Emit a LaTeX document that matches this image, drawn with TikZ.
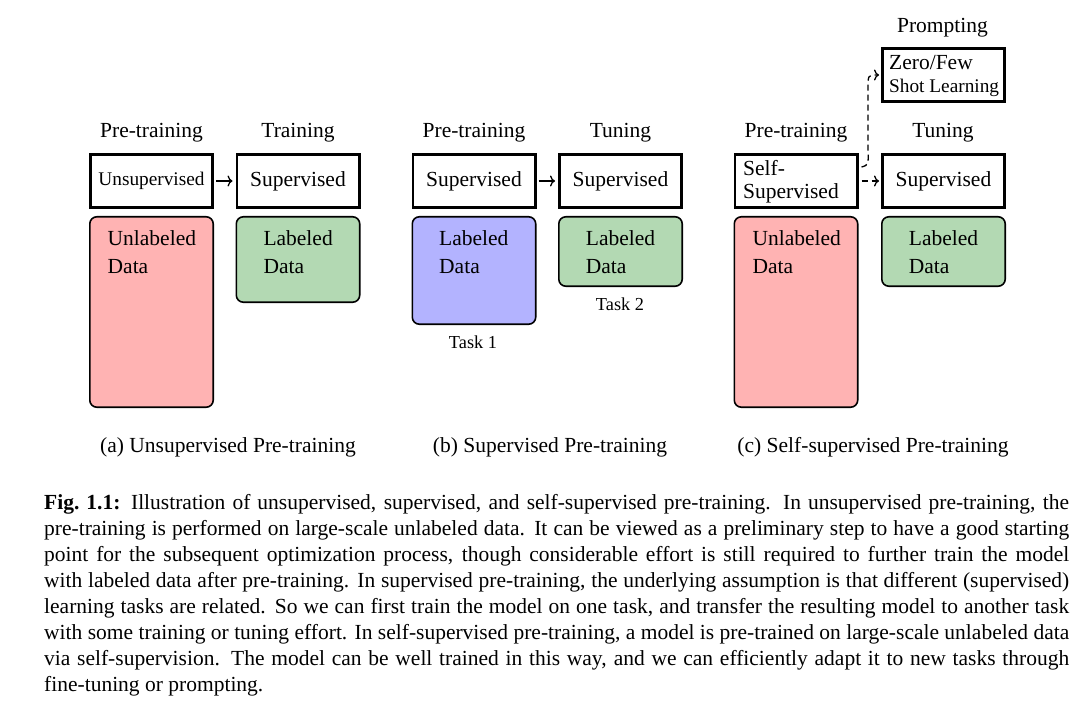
\documentclass[tikz,border=0pt]{standalone}
\usepackage{fontspec}
\setmainfont{Liberation Serif}
\usetikzlibrary{arrows.meta}
\definecolor{redfill}{RGB}{255,179,179}
\definecolor{greenfill}{RGB}{179,217,179}
\definecolor{bluefill}{RGB}{179,179,255}
\newcommand{\nsz}{\fontsize{21.5}{26}\selectfont}
\newcommand{\ssz}{\fontsize{19.3}{23}\selectfont}
\newcommand{\tsz}{\fontsize{18.3}{22}\selectfont}
\newcommand{\capline}[1]{\makebox[1025pt][s]{#1}}
\begin{document}
\begin{tikzpicture}[x=1pt,y=-1pt,
  stagebox/.style={draw, line width=2.6pt, minimum width=122.4pt, minimum height=53.4pt, inner sep=0pt, font=\nsz},
  databox/.style={draw, line width=1.6pt, rounded corners=7pt, minimum width=123.4pt, inner sep=0pt},
  txt/.style={inner sep=0pt, anchor=base, font=\nsz},
  ltxt/.style={inner sep=0pt, anchor=base west, font=\nsz},
  captxt/.style={inner sep=0pt, anchor=base west, font=\nsz},
  solidarrow/.style={line width=1.3pt, -{Computer Modern Rightarrow[length=5pt,width=11pt]}, shorten <=2pt, shorten >=3pt},
  dasharrow/.style={line width=1.3pt, dash pattern=on 6pt off 4pt, -{Computer Modern Rightarrow[length=5pt,width=11pt]}, shorten >=2pt}
]
\useasboundingbox (0,0) rectangle (1083,711);
\fill[white] (0,0) rectangle (1083,711);

% ---------- (a) ----------
\node[txt] (ha1) at (151.5,137.7) {Pre-training};
\node[txt] (ha2) at (298,137.7) {Training};
\node[stagebox, font=\ssz] (unsA) at (151.5,181) {Unsupervised};
\node[stagebox] (supA) at (298,181) {Supervised};
\draw[solidarrow] (unsA.east) -- (supA.west);
\node[databox, fill=redfill, minimum height=190.4pt] (redA) at (151.5,312) {};
\node[ltxt] (redAt1) at (107.5,246) {Unlabeled};
\node[ltxt] (redAt2) at (107.5,273) {Data};
\node[databox, fill=greenfill, minimum height=85.4pt] (grnA) at (298,259.5) {};
\node[ltxt] (grnAt1) at (263.3,246) {Labeled};
\node[ltxt] (grnAt2) at (263.3,273) {Data};
\node[txt] (capA) at (228,452.5) {(a) Unsupervised Pre-training};

% ---------- (b) ----------
\node[txt] (hb1) at (474,137.7) {Pre-training};
\node[txt] (hb2) at (620.5,137.7) {Tuning};
\node[stagebox] (supB1) at (474,181) {Supervised};
\node[stagebox] (supB2) at (620.5,181) {Supervised};
\draw[solidarrow] (supB1.east) -- (supB2.west);
\node[databox, fill=bluefill, minimum height=107.4pt] (bluB) at (474,270.5) {};
\node[ltxt] (bluBt1) at (439,246) {Labeled};
\node[ltxt] (bluBt2) at (439,273) {Data};
\node[databox, fill=greenfill, minimum height=69.4pt] (grnB) at (620.5,251.5) {};
\node[ltxt] (grnBt1) at (585.7,246) {Labeled};
\node[ltxt] (grnBt2) at (585.7,273) {Data};
\node[txt, font=\tsz] (task1) at (473,348) {Task 1};
\node[txt, font=\tsz] (task2) at (620,310) {Task 2};
\node[txt] (capB) at (550,452.5) {(b) Supervised Pre-training};

% ---------- (c) ----------
\node[txt] (hc0) at (942.5,33) {Prompting};
\node[stagebox] (zero) at (943.5,75) {};
\node[ltxt] (zerot1) at (889,70) {Zero/Few};
\node[ltxt, font=\ssz] (zerot2) at (889,93) {Shot Learning};
\node[txt] (hc1) at (796,137.7) {Pre-training};
\node[txt] (hc2) at (943,137.7) {Tuning};
\node[stagebox] (self) at (796,181) {};
\node[ltxt] (selft1) at (743,176) {Self-};
\node[ltxt] (selft2) at (743,198.5) {Supervised};
\node[stagebox] (supC) at (943.5,181) {Supervised};
\node[databox, fill=redfill, minimum height=190.4pt] (redC) at (796,312) {};
\node[ltxt] (redCt1) at (752.3,246) {Unlabeled};
\node[ltxt] (redCt2) at (752.3,273) {Data};
\node[databox, fill=greenfill, minimum height=69.4pt] (grnC) at (943.5,251.5) {};
\node[ltxt] (grnCt1) at (908.7,246) {Labeled};
\node[ltxt] (grnCt2) at (908.7,273) {Data};
\coordinate (bendlow) at (868,150);
\coordinate (bendhigh) at (868,88);
\draw[dasharrow, shorten <=3pt] (self.east) -- (supC.west);
\draw[dasharrow] ([xshift=3pt,yshift=14pt]self.east) .. controls ([xshift=10pt,yshift=16pt]self.east) .. (bendlow) -- (bendhigh) .. controls (868,75) .. (zero.west);
\node[txt] (capC) at (873,452.5) {(c) Self-supervised Pre-training};

% ---------- caption ----------
\node[captxt] (cl1) at (44,509) {\capline{\textbf{Fig.\ 1.1:} Illustration of unsupervised, supervised, and self-supervised pre-training.  In unsupervised pre-training, the}};
\node[captxt] (cl2) at (44,535) {\capline{pre-training is performed on large-scale unlabeled data. It can be viewed as a preliminary step to have a good starting}};
\node[captxt] (cl3) at (44,561) {\capline{point for the subsequent optimization process, though considerable effort is still required to further train the model}};
\node[captxt] (cl4) at (44,587) {\capline{with labeled data after pre-training. In supervised pre-training, the underlying assumption is that different (supervised)}};
\node[captxt] (cl5) at (44,613) {\capline{learning tasks are related. So we can first train the model on one task, and transfer the resulting model to another task}};
\node[captxt] (cl6) at (44,639) {\capline{with some training or tuning effort. In self-supervised pre-training, a model is pre-trained on large-scale unlabeled data}};
\node[captxt] (cl7) at (44,665) {\capline{via self-supervision.  The model can be well trained in this way, and we can efficiently adapt it to new tasks through}};
\node[captxt] (cl8) at (44,691) {fine-tuning or prompting.};
\end{tikzpicture}
\end{document}
